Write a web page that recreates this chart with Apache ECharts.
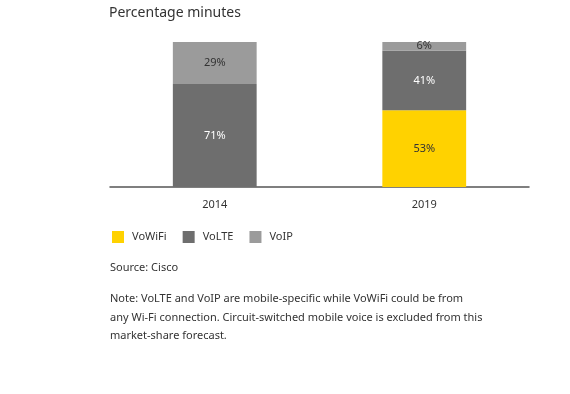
<!DOCTYPE html>
<html><head><meta charset="utf-8">
<script src="https://cdn.jsdelivr.net/npm/echarts@6/dist/echarts.min.js"></script>
<style>html,body{margin:0;padding:0;background:#fff}#c{width:570px;height:394px}</style>
</head><body><div id="c"></div>
<script>
var categories = ['2014', '2019'];
var vowifi = [0, 53];
var volte = [71, 41];
var voip = [29, 6];
var seriesNames = ['VoWiFi', 'VoLTE', 'VoIP'];
var titleText = 'Percentage minutes';
var sourceText = 'Source: Cisco';
var noteText = 'Note: VoLTE and VoIP are mobile-specific while VoWiFi could be from\nany Wi-Fi connection. Circuit-switched mobile voice is excluded from this\nmarket-share forecast.';

var FONT = '"Noto Sans", "DejaVu Sans", sans-serif';
var chart = echarts.init(document.getElementById('c'));
function lbl(color) {
  return {
    show: true, position: 'inside', color: color, fontSize: 11, fontFamily: FONT,
    formatter: function (p) { return p.value > 0 ? p.value + '%' : ''; }
  };
}
chart.setOption({
  animation: false,
  title: [
    { text: titleText, left: 104, top: 1, textStyle: { fontSize: 14, fontWeight: 'normal', color: '#333', fontFamily: FONT } },
    { text: sourceText, left: 105, top: 257, textStyle: { fontSize: 11, fontWeight: 'normal', color: '#333', fontFamily: FONT } },
    { text: noteText, left: 105, top: 285, textStyle: { fontSize: 11, fontWeight: 'normal', color: '#333', fontFamily: FONT, lineHeight: 18.5 } }
  ],
  legend: {
    data: seriesNames, left: 107, top: 226, icon: 'rect', itemWidth: 12, itemHeight: 12, itemGap: 16,
    textStyle: { fontSize: 11, color: '#333', fontFamily: FONT, padding: [0, 0, 0, 3] }
  },
  grid: { left: 110, right: 41, top: 42, bottom: 207 },
  xAxis: {
    type: 'category', data: categories,
    axisLine: { lineStyle: { color: '#555', width: 1.5 } },
    axisTick: { show: false },
    axisLabel: { fontSize: 11, color: '#333', fontFamily: FONT, margin: 12 }
  },
  yAxis: { type: 'value', min: 0, max: 100, show: false, splitLine: { show: false } },
  series: [
    { name: seriesNames[0], type: 'bar', stack: 'a', barWidth: '40%', data: vowifi, itemStyle: { color: '#ffd200' }, label: lbl('#333') },
    { name: seriesNames[1], type: 'bar', stack: 'a', data: volte, itemStyle: { color: '#6e6e6e' }, label: lbl('#fff') },
    { name: seriesNames[2], type: 'bar', stack: 'a', data: voip, itemStyle: { color: '#9b9b9b' }, label: lbl('#333') }
  ]
});
</script></body></html>
